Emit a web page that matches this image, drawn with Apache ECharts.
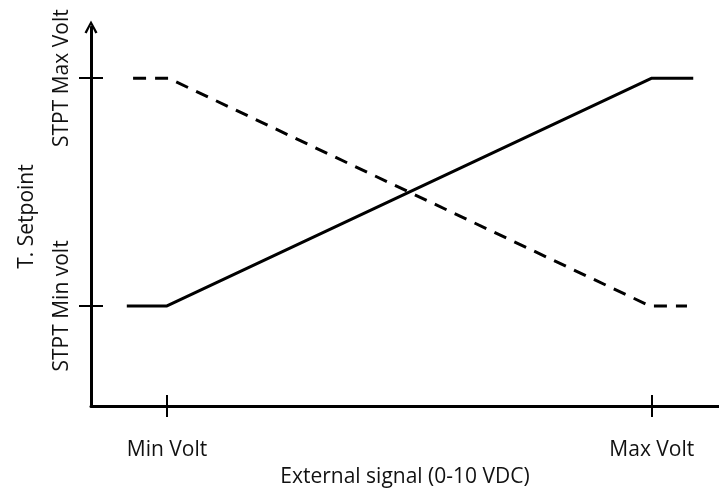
<!DOCTYPE html>
<html>
<head>
<meta charset="utf-8">
<script src="https://cdn.jsdelivr.net/npm/echarts@6/dist/echarts.min.js"></script>
<style>
  html, body { margin: 0; padding: 0; background: #fff; }
  #chart { width: 719px; height: 492px; }
</style>
</head>
<body>
<div id="chart"></div>
<script>
// x in signal units (0..10 across the axis), y in setpoint units (0..10 up the axis)
const xTicks = [1.21, 8.93]
const xTickLabels = ['Min Volt', 'Max Volt']
const yTicks = [2.64, 8.65]
const yTickLabels = ['STPT Min volt', 'STPT Max Volt']

// solid line: setpoint rising with signal
const solidX = [0.57, 1.21, 8.93, 9.59]
const solidY = [2.64, 2.64, 8.65, 8.65]
// dashed line: setpoint falling with signal
const dashedX = [0.67, 1.23, 8.90, 9.49]
const dashedY = [8.65, 8.65, 2.64, 2.64]

const font = 'Open Sans'
const ink = '#000'

function pairs(xs, ys) {
  return xs.map((x, i) => [x, ys[i]])
}

function labelFor(values, labels) {
  return function(v) {
    const i = values.findIndex(t => Math.abs(t - v) < 1e-6)
    return i >= 0 ? labels[i] : ''
  }
}

const chart = echarts.init(document.getElementById('chart'))
chart.setOption({
  animation: false,
  grid: { left: 91, right: 0, top: 27, bottom: 86, outerBoundsMode: 'none' },
  xAxis: [{
    type: 'value',
    min: 0,
    max: 10,
    name: 'External signal (0-10 VDC)',
    nameLocation: 'middle',
    nameGap: 61,
    nameTextStyle: { fontFamily: font, fontSize: 21, color: '#111' },
    axisLine: { show: true, lineStyle: { color: ink, width: 3 } },
    axisTick: { show: true, inside: false, length: 11, customValues: xTicks, lineStyle: { color: ink, width: 2 } },
    axisLabel: {
      customValues: xTicks,
      formatter: labelFor(xTicks, xTickLabels),
      margin: 34,
      fontFamily: font,
      fontSize: 21,
      color: '#111'
    },
    splitLine: { show: false }
  }, {
    type: 'value',
    min: 0,
    max: 10,
    position: 'bottom',
    axisLine: { show: false },
    axisTick: { show: true, inside: true, length: 11, customValues: xTicks, lineStyle: { color: ink, width: 2 } },
    axisLabel: { show: false },
    splitLine: { show: false }
  }],
  yAxis: [{
    type: 'value',
    min: 0,
    max: 10,
    name: 'T. Setpoint',
    nameLocation: 'middle',
    nameGap: 53,
    nameTextStyle: { fontFamily: font, fontSize: 21, color: '#111' },
    axisLine: {
      show: true,
      symbol: ['none', 'path://M0,11 L6,0 L12,11 L10,12 L6,4 L2,12 Z'],
      symbolSize: [13, 14],
      lineStyle: { color: ink, width: 3 }
    },
    axisTick: { show: true, inside: false, length: 12, customValues: yTicks, lineStyle: { color: ink, width: 2 } },
    axisLabel: {
      customValues: yTicks,
      formatter: labelFor(yTicks, yTickLabels),
      rotate: 90,
      margin: 18,
      fontFamily: font,
      fontSize: 21,
      color: '#111'
    },
    splitLine: { show: false }
  }, {
    type: 'value',
    min: 0,
    max: 10,
    position: 'left',
    axisLine: { show: false },
    axisTick: { show: true, inside: true, length: 12, customValues: yTicks, lineStyle: { color: ink, width: 2 } },
    axisLabel: { show: false },
    splitLine: { show: false }
  }],
  series: [{
    type: 'line',
    xAxisIndex: 0,
    yAxisIndex: 0,
    showSymbol: false,
    lineStyle: { color: ink, width: 3 },
    data: pairs(solidX, solidY)
  }, {
    type: 'line',
    xAxisIndex: 0,
    yAxisIndex: 0,
    showSymbol: false,
    lineStyle: { color: ink, width: 3, type: [13, 9] },
    data: pairs(dashedX, dashedY)
  }]
})
</script>
</body>
</html>
